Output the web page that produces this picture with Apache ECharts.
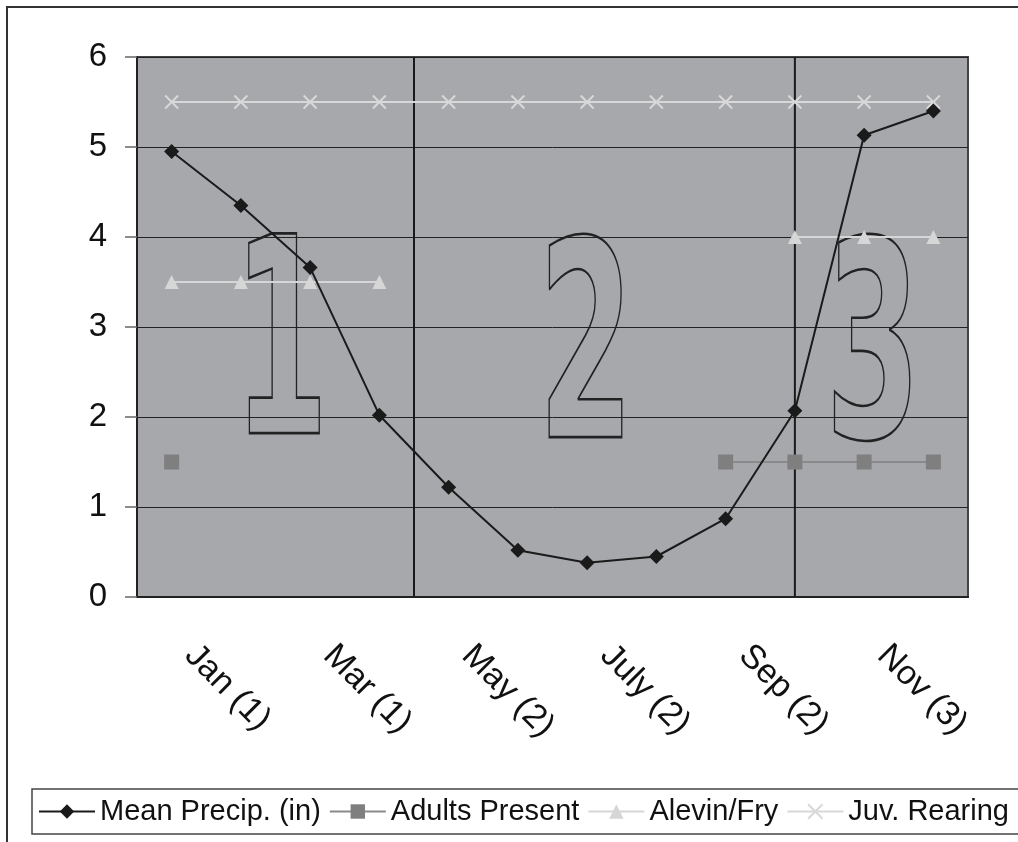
<!DOCTYPE html>
<html><head><meta charset="utf-8">
<script src="https://cdn.jsdelivr.net/npm/echarts@6/dist/echarts.min.js"></script>
<style>html,body{margin:0;padding:0;background:#fff}#c{width:1018px;height:842px}</style>
</head><body><div id="c"></div>
<script>
const months = ['Jan (1)','Feb (1)','Mar (1)','Apr (1)','May (2)','June (2)','July (2)','Aug (2)','Sep (2)','Oct (3)','Nov (3)','Dec (3)'];
const meanPrecip = [4.95,4.35,3.66,2.02,1.22,0.52,0.38,0.45,0.87,2.07,5.13,5.40];
const adultsPresent = [1.5,null,null,null,null,null,null,null,1.5,1.5,1.5,1.5];
const alevinFry = [3.5,3.5,3.5,3.5,null,null,null,null,null,4,4,4];
const juvRearing = [5.5,5.5,5.5,5.5,5.5,5.5,5.5,5.5,5.5,5.5,5.5,5.5];
const periodBoundaries = [4, 9.5];
const periodLabels = ['1','2','3'];
const yMin = 0, yMax = 6, yStep = 1;

const FONT = 'Liberation Sans, Arial, sans-serif';
const chart = echarts.init(document.getElementById('c'));

const boundarySeries = periodBoundaries.map(b => ({
  type: 'line', xAxisIndex: 1, yAxisIndex: 0, silent: true, symbol: 'none',
  data: [[b, yMin], [b, yMax]],
  lineStyle: {color: '#1a1a1a', width: 2}, z: 3, legendHoverLink: false
}));

const digitPos = [[281, 362], [586, 366], [873, 366]];

chart.setOption({
  animation: false,
  backgroundColor: '#fff',
  textStyle: {fontFamily: FONT},
  grid: {left: 137, top: 57, right: 50, bottom: 245, show: true,
         backgroundColor: '#a7a8ac', borderColor: '#444', borderWidth: 2},
  legend: {
    data: ['Mean Precip. (in)', 'Adults Present', 'Alevin/Fry', 'Juv. Rearing'],
    left: 32, top: 789, width: 1400, padding: [8, 40, 8, 6], itemGap: 8,
    itemWidth: 56, itemHeight: 18,
    borderColor: '#444', borderWidth: 1.5,
    textStyle: {fontSize: 29, color: '#111', fontFamily: FONT}
  },
  xAxis: [{
    type: 'category', data: months, boundaryGap: true,
    axisLine: {lineStyle: {color: '#222', width: 2}},
    axisTick: {interval: 0, length: 11, lineStyle: {color: '#666', width: 1.5}},
    axisLabel: {interval: 1, rotate: -45, margin: 35, padding: [0, 0, 0, 26], fontSize: 34, color: '#111', fontFamily: FONT},
    splitLine: {show: false}
  }, {
    type: 'value', min: 0, max: months.length, show: false
  }],
  yAxis: {
    type: 'value', min: yMin, max: yMax, interval: yStep,
    axisLine: {show: true, lineStyle: {color: '#222', width: 2}},
    axisTick: {show: true, length: 12, lineStyle: {color: '#666', width: 1.5}},
    axisLabel: {fontSize: 33, color: '#111', margin: 30, fontFamily: FONT},
    splitLine: {lineStyle: {color: '#222', width: 1}}
  },
  graphic: [
    {type: 'rect', shape: {x: 7, y: 7, width: 1040, height: 870}, style: {fill: 'none', stroke: '#333', lineWidth: 2}, z: -10, silent: true}
  ].concat(periodLabels.map((t, i) => ({
    type: 'text', x: digitPos[i][0], y: digitPos[i][1], scaleX: 0.5, scaleY: 1, z: 2, silent: true,
    style: {text: t, font: 'bold 274px DejaVu Sans', fill: 'transparent', stroke: '#222', lineWidth: 2.6,
            textAlign: 'center', textVerticalAlign: 'middle'}
  }))),
  series: [
    {name: 'Juv. Rearing', type: 'line', data: juvRearing, symbol: 'path://M0,0 L10,10 M10,0 L0,10', symbolSize: 13,
     itemStyle: {color: '#d8d8d8', borderColor: '#d8d8d8', borderWidth: 2}, lineStyle: {color: '#d8d8d8', width: 2}, z: 4},
    {name: 'Alevin/Fry', type: 'line', data: alevinFry, symbol: 'triangle', symbolSize: 14,
     itemStyle: {color: '#d6d6d6'}, lineStyle: {color: '#d6d6d6', width: 2}, z: 4},
    {name: 'Adults Present', type: 'line', data: adultsPresent, symbol: 'rect', symbolSize: 15,
     itemStyle: {color: '#7f7f7f'}, lineStyle: {color: '#8a8a8a', width: 2}, z: 4},
    {name: 'Mean Precip. (in)', type: 'line', data: meanPrecip, symbol: 'diamond', symbolSize: 15,
     itemStyle: {color: '#1a1a1a'}, lineStyle: {color: '#1a1a1a', width: 2}, z: 6}
  ].concat(boundarySeries)
});
</script></body></html>
